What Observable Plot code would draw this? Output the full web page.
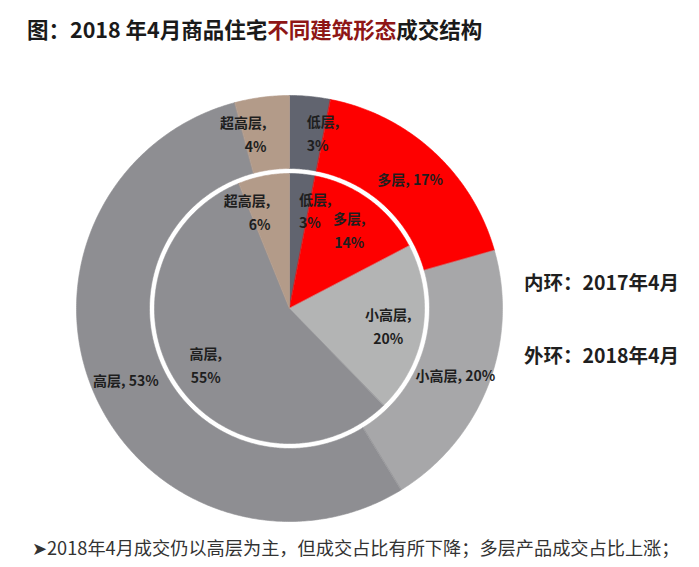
<!DOCTYPE html>
<html>
<head>
<meta charset="utf-8">
<script src="https://cdn.jsdelivr.net/npm/d3@7"></script>
<script src="https://cdn.jsdelivr.net/npm/@observablehq/plot@0.6"></script>
<style>
  html, body { margin: 0; padding: 0; background: #ffffff; }
  body { font-family: "Noto Sans CJK SC", "Noto Sans", sans-serif; }
  #wrap { position: relative; width: 699px; height: 567px; overflow: hidden; }
  #title { position: absolute; left: 27px; top: 14px; font-size: 21.5px; font-weight: bold; color: #1a1a1a; line-height: 30px; white-space: nowrap; }
  #title .hl { color: #8e1616; }
  #chart { position: absolute; left: 0; top: 58px; }
  .ring { position: absolute; left: 524px; font-size: 19.5px; font-weight: bold; color: #1f1f1f; line-height: 24px; white-space: nowrap; }
  #note { position: absolute; left: 32px; top: 534px; font-size: 18.2px; color: #333; line-height: 26px; white-space: nowrap; }
</style>
</head>
<body>
<div id="wrap">
  <div id="title">图：2018 年4月商品住宅<span class="hl">不同建筑形态</span>成交结构</div>
  <div id="chart"></div>
  <div class="ring" style="top:270px">内环：2017年4月</div>
  <div class="ring" style="top:343px">外环：2018年4月</div>
  <div id="note">➤2018年4月成交仍以高层为主，但成交占比有所下降；多层产品成交占比上涨；</div>
</div>
<script>
// ---- data ----
const categories = ["低层", "多层", "小高层", "高层", "超高层"];
const outer2018 = [3, 17, 20, 53, 4];   // 外环：2018年4月 (%)
const inner2017 = [3, 14, 20, 55, 6];   // 内环：2017年4月 (%)
const outerColors = ["#61646f", "#fe0000", "#a7a7a9", "#8e8e92", "#b39b89"];
const innerColors = ["#61646f", "#fe0000", "#b3b4b4", "#8e8e92", "#b39b89"];

// ---- geometry (pixel units on the plot's x/y scales) ----
const W = 699, H = 472;
const CX = 289, CY = 250;
const R_OUT = 213, R_OUT_IN = 140, R_IN = 135;

const pie = d3.pie().sort(null).value(d => d.value);

function ringData(values, colors, ring) {
  return pie(categories.map((c, i) => ({cat: c, value: values[i], color: colors[i], ring})));
}
const outerArcs = ringData(outer2018, outerColors, "outer");
const innerArcs = ringData(inner2017, innerColors, "inner");

function pt(a, r) { return [r * Math.sin(a), -r * Math.cos(a)]; }

function polygons(arcs, r1, r0) {
  const pts = [];
  for (const a of arcs) {
    const key = a.data.ring + "-" + a.data.cat;
    const n = Math.max(4, Math.ceil((a.endAngle - a.startAngle) / 0.01));
    for (let i = 0; i <= n; i++) {
      const ang = a.startAngle + (a.endAngle - a.startAngle) * i / n;
      const [x, y] = pt(ang, r1);
      pts.push({key, x, y, color: a.data.color});
    }
    if (r0 > 0) {
      for (let i = n; i >= 0; i--) {
        const ang = a.startAngle + (a.endAngle - a.startAngle) * i / n;
        const [x, y] = pt(ang, r0);
        pts.push({key, x, y, color: a.data.color});
      }
    } else {
      pts.push({key, x: 0, y: 0, color: a.data.color});
    }
  }
  return pts;
}

const shapes = [...polygons(outerArcs, R_OUT, R_OUT_IN), ...polygons(innerArcs, R_IN, 0)];

function labels(arcs, r, twoLine) {
  return arcs.map(a => {
    const mid = (a.startAngle + a.endAngle) / 2;
    const [x, y] = pt(mid, r);
    const v = a.data.value;
    const small = v < 7;
    const deg = mid * 180 / Math.PI;
    const anchor = small ? (deg < 180 ? "start" : "end") : "middle";
    const text = (twoLine || v < 10) ? `${a.data.cat},\n${v}%` : `${a.data.cat}, ${v}%`;
    return {x, y, text, anchor};
  });
}
const labelData = [...labels(outerArcs, 178, false), ...labels(innerArcs, 100, true)];

const chart = Plot.plot({
  width: W,
  height: H,
  margin: 0,
  x: {domain: [-CX, W - CX], range: [0, W], axis: null},
  y: {domain: [-CY, H - CY], range: [0, H], axis: null},
  color: {type: "identity"},
  style: {fontFamily: "'Noto Sans CJK SC', sans-serif", background: "transparent"},
  marks: [
    Plot.line(shapes, {x: "x", y: "y", z: "key", fill: "color", stroke: "color", strokeWidth: 0.6, curve: "linear-closed"}),
    ...["start", "middle", "end"].map(anc =>
      Plot.text(labelData.filter(d => d.anchor === anc), {
        x: "x", y: "y", text: "text",
        textAnchor: anc, fontSize: 14, fontWeight: "bold", fill: "#1e1e1e", lineHeight: 1.7
      })
    )
  ]
});
document.getElementById("chart").appendChild(chart);
</script>
</body>
</html>
